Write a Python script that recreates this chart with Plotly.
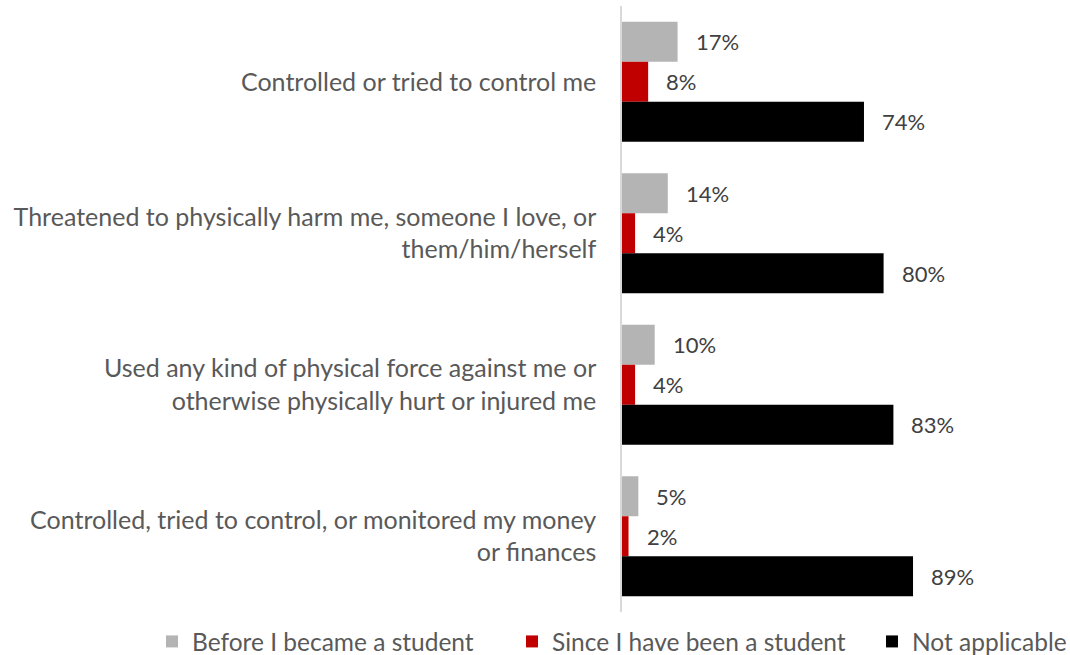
import plotly.graph_objects as go

categories = [
    "Controlled or tried to control me",
    "Threatened to physically harm me, someone I love, or<br>them/him/herself",
    "Used any kind of physical force against me or<br>otherwise physically hurt or injured me",
    "Controlled, tried to control, or monitored my money<br>or finances",
]
series_names = ["Before I became a student", "Since I have been a student", "Not applicable"]
before = [17, 14, 10, 5]
since = [8, 4, 4, 2]
not_applicable = [74, 80, 83, 89]
colors = ["#b4b4b4", "#c00000", "#000000"]

series_values = [before, since, not_applicable]

W, H = 1070, 655
ml, mr, mt, mb = 622, 121, 6, 43
bargap = 0.208
font_family = "Lato"
label_color = "#595959"
value_color = "#404040"
legend_widths = [315, 315, 150]

fig = go.Figure()
for name, vals, col, lw in zip(series_names, series_values, colors, legend_widths):
    fig.add_trace(go.Bar(
        y=categories, x=vals, name=name, orientation="h",
        marker=dict(color=col, line=dict(width=0)),
        hoverinfo="skip", legendwidth=lw,
    ))

plot_w = W - ml - mr
plot_h = H - mt - mb
band = plot_h / len(categories)
bar_px = band * (1 - bargap) / len(series_names)

annotations = []
for si, vals in enumerate(series_values):
    offset = (1 - si) * bar_px
    for cat, v in zip(categories, vals):
        annotations.append(dict(
            x=v, y=cat, xref="x", yref="y", text=f"{v}%", showarrow=False,
            xanchor="left", yanchor="middle", xshift=16, yshift=offset,
            font=dict(family=font_family, size=22, color=value_color),
        ))

legend_left_px = 152
legend_top_px = 619

fig.update_layout(
    width=W, height=H,
    margin=dict(l=ml, r=mr, t=mt, b=mb, autoexpand=False),
    barmode="group", bargap=bargap, bargroupgap=0,
    plot_bgcolor="white", paper_bgcolor="white",
    font=dict(family=font_family, size=25, color=label_color),
    xaxis=dict(range=[0, 100], showgrid=False, showticklabels=False, zeroline=False,
               showline=False, fixedrange=True),
    yaxis=dict(autorange="reversed", showgrid=False, showline=True, linecolor="#d9d9d9",
               linewidth=1.5, ticks="", ticklabelstandoff=19, fixedrange=True,
               tickfont=dict(family=font_family, size=25, color=label_color)),
    showlegend=True,
    legend=dict(orientation="h",
                x=(legend_left_px - ml) / plot_w, xanchor="left",
                y=-(legend_top_px - (H - mb)) / plot_h, yanchor="top",
                font=dict(family=font_family, size=24.5, color=label_color),
                traceorder="normal", itemclick=False, itemdoubleclick=False),
    annotations=annotations,
)

fig.write_html("out.html", config={"displayModeBar": False},
               post_script="document.body.style.margin='0px';document.body.style.overflow='hidden';")
